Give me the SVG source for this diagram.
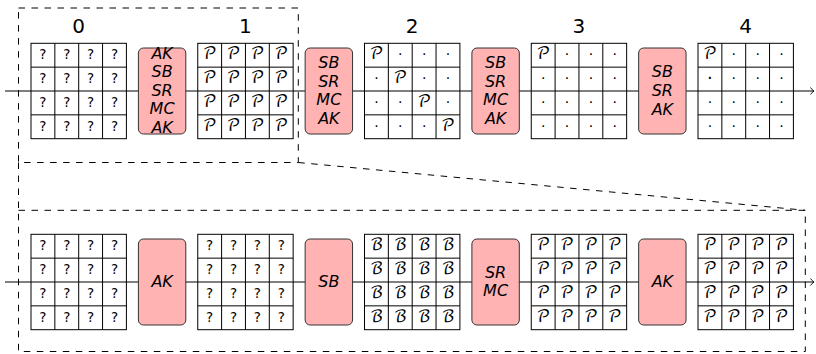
<svg xmlns="http://www.w3.org/2000/svg" xmlns:xlink="http://www.w3.org/1999/xlink" width="816" height="354" viewBox="0 0 816 354">
<style>
.bg{fill:#ffffff}
.grid{fill:#ffffff;stroke:#000;stroke-width:1}
.gl{fill:none;stroke:#000;stroke-width:1}
.box{fill:#ffb3b3;stroke:#333;stroke-width:1}
.wire{fill:none;stroke:#000;stroke-width:1}
.dash{fill:none;stroke:#000;stroke-width:1;stroke-dasharray:6.5 6.5}
.num{font-family:"DejaVu Sans","Liberation Sans",sans-serif;font-size:20px;text-anchor:middle;fill:#000}
.op{font-family:"DejaVu Sans","Liberation Sans",sans-serif;font-size:16px;font-style:italic;text-anchor:middle;fill:#000}
.q{font-family:"DejaVu Sans","Liberation Sans",sans-serif;font-size:13.5px;text-anchor:middle;fill:#000}
.p{font-family:"DejaVu Math TeX Gyre","DejaVu Sans","Noto Sans",serif;font-size:16.5px;text-anchor:middle;fill:#000}
.d{font-family:"DejaVu Sans","Liberation Sans",sans-serif;font-size:14px;text-anchor:middle;fill:#000}
.db{font-family:"DejaVu Sans","Liberation Sans",sans-serif;font-size:18px;text-anchor:middle;fill:#000}
</style>
<defs>
<marker id="arr" markerWidth="10" markerHeight="10" refX="5" refY="5" orient="auto" markerUnits="userSpaceOnUse">
<path d="M1.5,1.5 Q3.5,4.3 5,5 Q3.5,5.7 1.5,8.5" fill="none" stroke="#000" stroke-width="0.9"/>
</marker>
<g id="gf">
<rect class="grid" x="0" y="0" width="95.4" height="95.4"/>
<path class="gl" d="M23.85,0V95.4M47.7,0V95.4M71.55,0V95.4M0,23.85H95.4M0,47.7H95.4M0,71.55H95.4"/>
</g>
</defs>
<rect class="bg" x="0" y="0" width="816" height="354"/>

<g id="connectors">
<path class="wire" d="M5,91H814" marker-end="url(#arr)"/>
<path class="wire" d="M5,282H814" marker-end="url(#arr)"/>
<path class="dash" d="M18.5,162.5V210.3"/>
<path class="dash" d="M298.3,162.5L805.3,210.3"/>
</g>

<g id="zoom-top"><rect class="dash" x="18.5" y="8" width="279.8" height="154.5"/></g>
<g id="zoom-bottom"><rect class="dash" x="18.5" y="210.3" width="786.8" height="141.2"/></g>

<g id="labels">
<text class="num" x="78.7" y="32.5">0</text>
<text class="num" x="245.45" y="32.5">1</text>
<text class="num" x="412.2" y="32.5">2</text>
<text class="num" x="578.95" y="32.5">3</text>
<text class="num" x="745.7" y="32.5">4</text>
</g>

<!-- top row -->
<g id="t-grid0">
<use xlink:href="#gf" x="31" y="43.3"/>
<text class="q" x="42.93" y="59.2">?</text><text class="q" x="66.78" y="59.2">?</text><text class="q" x="90.63" y="59.2">?</text><text class="q" x="114.48" y="59.2">?</text>
<text class="q" x="42.93" y="83.1">?</text><text class="q" x="66.78" y="83.1">?</text><text class="q" x="90.63" y="83.1">?</text><text class="q" x="114.48" y="83.1">?</text>
<text class="q" x="42.93" y="106.9">?</text><text class="q" x="66.78" y="106.9">?</text><text class="q" x="90.63" y="106.9">?</text><text class="q" x="114.48" y="106.9">?</text>
<text class="q" x="42.93" y="130.8">?</text><text class="q" x="66.78" y="130.8">?</text><text class="q" x="90.63" y="130.8">?</text><text class="q" x="114.48" y="130.8">?</text>
</g>
<g id="t-op1">
<rect class="box" x="138.4" y="48" width="47.4" height="86" rx="5"/>
<text class="op" x="162.1" y="58.8">AK</text>
<text class="op" x="162.1" y="77.3">SB</text>
<text class="op" x="162.1" y="95.8">SR</text>
<text class="op" x="162.1" y="114.3">MC</text>
<text class="op" x="162.1" y="132.8">AK</text>
</g>
<g id="t-grid1">
<use xlink:href="#gf" x="197.75" y="43.3"/>
<text class="p" x="209.68" y="59.2">𝒫</text><text class="p" x="233.53" y="59.2">𝒫</text><text class="p" x="257.38" y="59.2">𝒫</text><text class="p" x="281.23" y="59.2">𝒫</text>
<text class="p" x="209.68" y="83.1">𝒫</text><text class="p" x="233.53" y="83.1">𝒫</text><text class="p" x="257.38" y="83.1">𝒫</text><text class="p" x="281.23" y="83.1">𝒫</text>
<text class="p" x="209.68" y="106.9">𝒫</text><text class="p" x="233.53" y="106.9">𝒫</text><text class="p" x="257.38" y="106.9">𝒫</text><text class="p" x="281.23" y="106.9">𝒫</text>
<text class="p" x="209.68" y="130.8">𝒫</text><text class="p" x="233.53" y="130.8">𝒫</text><text class="p" x="257.38" y="130.8">𝒫</text><text class="p" x="281.23" y="130.8">𝒫</text>
</g>
<g id="t-op2">
<rect class="box" x="305.15" y="48" width="47.4" height="86" rx="5"/>
<text class="op" x="328.85" y="68">SB</text>
<text class="op" x="328.85" y="86.5">SR</text>
<text class="op" x="328.85" y="105">MC</text>
<text class="op" x="328.85" y="123.5">AK</text>
</g>
<g id="t-grid2">
<use xlink:href="#gf" x="364.5" y="43.3"/>
<text class="p" x="376.43" y="59.2">𝒫</text><text class="d" x="400.28" y="59.2">·</text><text class="d" x="424.13" y="59.2">·</text><text class="d" x="447.98" y="59.2">·</text>
<text class="d" x="376.43" y="83.1">·</text><text class="p" x="400.28" y="83.1">𝒫</text><text class="d" x="424.13" y="83.1">·</text><text class="d" x="447.98" y="83.1">·</text>
<text class="d" x="376.43" y="106.9">·</text><text class="d" x="400.28" y="106.9">·</text><text class="p" x="424.13" y="106.9">𝒫</text><text class="d" x="447.98" y="106.9">·</text>
<text class="d" x="376.43" y="130.8">·</text><text class="d" x="400.28" y="130.8">·</text><text class="d" x="424.13" y="130.8">·</text><text class="p" x="447.98" y="130.8">𝒫</text>
</g>
<g id="t-op3">
<rect class="box" x="471.9" y="48" width="47.4" height="86" rx="5"/>
<text class="op" x="495.6" y="68">SB</text>
<text class="op" x="495.6" y="86.5">SR</text>
<text class="op" x="495.6" y="105">MC</text>
<text class="op" x="495.6" y="123.5">AK</text>
</g>
<g id="t-grid3">
<use xlink:href="#gf" x="531.25" y="43.3"/>
<text class="p" x="543.18" y="59.2">𝒫</text><text class="d" x="567.03" y="59.2">·</text><text class="d" x="590.88" y="59.2">·</text><text class="d" x="614.73" y="59.2">·</text>
<text class="d" x="543.18" y="83.1">·</text><text class="d" x="567.03" y="83.1">·</text><text class="d" x="590.88" y="83.1">·</text><text class="d" x="614.73" y="83.1">·</text>
<text class="d" x="543.18" y="106.9">·</text><text class="d" x="567.03" y="106.9">·</text><text class="d" x="590.88" y="106.9">·</text><text class="d" x="614.73" y="106.9">·</text>
<text class="d" x="543.18" y="130.8">·</text><text class="d" x="567.03" y="130.8">·</text><text class="d" x="590.88" y="130.8">·</text><text class="d" x="614.73" y="130.8">·</text>
</g>
<g id="t-op4">
<rect class="box" x="638.65" y="48" width="47.4" height="86" rx="5"/>
<text class="op" x="662.35" y="77">SB</text>
<text class="op" x="662.35" y="95.8">SR</text>
<text class="op" x="662.35" y="114.6">AK</text>
</g>
<g id="t-grid4">
<use xlink:href="#gf" x="698" y="43.3"/>
<text class="p" x="709.93" y="59.2">𝒫</text><text class="d" x="733.78" y="59.2">·</text><text class="d" x="757.63" y="59.2">·</text><text class="d" x="781.48" y="59.2">·</text>
<text class="db" x="709.93" y="83.6">·</text><text class="d" x="733.78" y="83.1">·</text><text class="d" x="757.63" y="83.1">·</text><text class="d" x="781.48" y="83.1">·</text>
<text class="d" x="709.93" y="106.9">·</text><text class="d" x="733.78" y="106.9">·</text><text class="d" x="757.63" y="106.9">·</text><text class="d" x="781.48" y="106.9">·</text>
<text class="d" x="709.93" y="130.8">·</text><text class="d" x="733.78" y="130.8">·</text><text class="d" x="757.63" y="130.8">·</text><text class="d" x="781.48" y="130.8">·</text>
</g>

<!-- bottom row -->
<g id="b-grid0">
<use xlink:href="#gf" x="31" y="234.3"/>
<text class="q" x="42.93" y="250.2">?</text><text class="q" x="66.78" y="250.2">?</text><text class="q" x="90.63" y="250.2">?</text><text class="q" x="114.48" y="250.2">?</text>
<text class="q" x="42.93" y="274.1">?</text><text class="q" x="66.78" y="274.1">?</text><text class="q" x="90.63" y="274.1">?</text><text class="q" x="114.48" y="274.1">?</text>
<text class="q" x="42.93" y="297.9">?</text><text class="q" x="66.78" y="297.9">?</text><text class="q" x="90.63" y="297.9">?</text><text class="q" x="114.48" y="297.9">?</text>
<text class="q" x="42.93" y="321.8">?</text><text class="q" x="66.78" y="321.8">?</text><text class="q" x="90.63" y="321.8">?</text><text class="q" x="114.48" y="321.8">?</text>
</g>
<g id="b-op1">
<rect class="box" x="138.4" y="239" width="47.4" height="86" rx="5"/>
<text class="op" x="162.1" y="286.8">AK</text>
</g>
<g id="b-grid1">
<use xlink:href="#gf" x="197.75" y="234.3"/>
<text class="q" x="209.68" y="250.2">?</text><text class="q" x="233.53" y="250.2">?</text><text class="q" x="257.38" y="250.2">?</text><text class="q" x="281.23" y="250.2">?</text>
<text class="q" x="209.68" y="274.1">?</text><text class="q" x="233.53" y="274.1">?</text><text class="q" x="257.38" y="274.1">?</text><text class="q" x="281.23" y="274.1">?</text>
<text class="q" x="209.68" y="297.9">?</text><text class="q" x="233.53" y="297.9">?</text><text class="q" x="257.38" y="297.9">?</text><text class="q" x="281.23" y="297.9">?</text>
<text class="q" x="209.68" y="321.8">?</text><text class="q" x="233.53" y="321.8">?</text><text class="q" x="257.38" y="321.8">?</text><text class="q" x="281.23" y="321.8">?</text>
</g>
<g id="b-op2">
<rect class="box" x="305.15" y="239" width="47.4" height="86" rx="5"/>
<text class="op" x="328.85" y="286.8">SB</text>
</g>
<g id="b-grid2">
<use xlink:href="#gf" x="364.5" y="234.3"/>
<text class="p" x="376.43" y="250.2">ℬ</text><text class="p" x="400.28" y="250.2">ℬ</text><text class="p" x="424.13" y="250.2">ℬ</text><text class="p" x="447.98" y="250.2">ℬ</text>
<text class="p" x="376.43" y="274.1">ℬ</text><text class="p" x="400.28" y="274.1">ℬ</text><text class="p" x="424.13" y="274.1">ℬ</text><text class="p" x="447.98" y="274.1">ℬ</text>
<text class="p" x="376.43" y="297.9">ℬ</text><text class="p" x="400.28" y="297.9">ℬ</text><text class="p" x="424.13" y="297.9">ℬ</text><text class="p" x="447.98" y="297.9">ℬ</text>
<text class="p" x="376.43" y="321.8">ℬ</text><text class="p" x="400.28" y="321.8">ℬ</text><text class="p" x="424.13" y="321.8">ℬ</text><text class="p" x="447.98" y="321.8">ℬ</text>
</g>
<g id="b-op3">
<rect class="box" x="471.9" y="239" width="47.4" height="86" rx="5"/>
<text class="op" x="495.6" y="277.5">SR</text>
<text class="op" x="495.6" y="296">MC</text>
</g>
<g id="b-grid3">
<use xlink:href="#gf" x="531.25" y="234.3"/>
<text class="p" x="543.18" y="250.2">𝒫</text><text class="p" x="567.03" y="250.2">𝒫</text><text class="p" x="590.88" y="250.2">𝒫</text><text class="p" x="614.73" y="250.2">𝒫</text>
<text class="p" x="543.18" y="274.1">𝒫</text><text class="p" x="567.03" y="274.1">𝒫</text><text class="p" x="590.88" y="274.1">𝒫</text><text class="p" x="614.73" y="274.1">𝒫</text>
<text class="p" x="543.18" y="297.9">𝒫</text><text class="p" x="567.03" y="297.9">𝒫</text><text class="p" x="590.88" y="297.9">𝒫</text><text class="p" x="614.73" y="297.9">𝒫</text>
<text class="p" x="543.18" y="321.8">𝒫</text><text class="p" x="567.03" y="321.8">𝒫</text><text class="p" x="590.88" y="321.8">𝒫</text><text class="p" x="614.73" y="321.8">𝒫</text>
</g>
<g id="b-op4">
<rect class="box" x="638.65" y="239" width="47.4" height="86" rx="5"/>
<text class="op" x="662.35" y="286.8">AK</text>
</g>
<g id="b-grid4">
<use xlink:href="#gf" x="698" y="234.3"/>
<text class="p" x="709.93" y="250.2">𝒫</text><text class="p" x="733.78" y="250.2">𝒫</text><text class="p" x="757.63" y="250.2">𝒫</text><text class="p" x="781.48" y="250.2">𝒫</text>
<text class="p" x="709.93" y="274.1">𝒫</text><text class="p" x="733.78" y="274.1">𝒫</text><text class="p" x="757.63" y="274.1">𝒫</text><text class="p" x="781.48" y="274.1">𝒫</text>
<text class="p" x="709.93" y="297.9">𝒫</text><text class="p" x="733.78" y="297.9">𝒫</text><text class="p" x="757.63" y="297.9">𝒫</text><text class="p" x="781.48" y="297.9">𝒫</text>
<text class="p" x="709.93" y="321.8">𝒫</text><text class="p" x="733.78" y="321.8">𝒫</text><text class="p" x="757.63" y="321.8">𝒫</text><text class="p" x="781.48" y="321.8">𝒫</text>
</g>
</svg>
